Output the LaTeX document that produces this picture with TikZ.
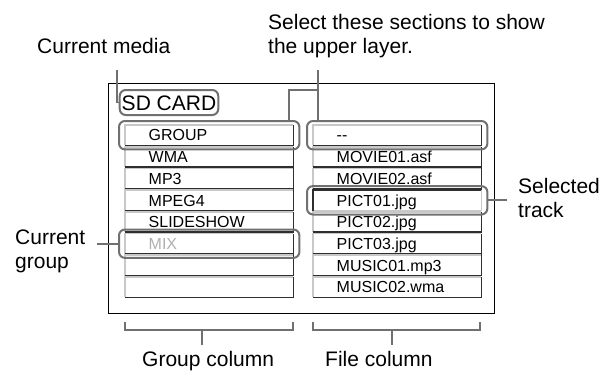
\documentclass[tikz,border=0pt]{standalone}
\usepackage{fontspec}
\setmainfont{Liberation Sans}
\usetikzlibrary{fit}
\definecolor{leadgray}{HTML}{707070}
\definecolor{bevlight}{HTML}{C8C8C8}
\definecolor{bevdark}{HTML}{2E2E2E}
\definecolor{mixgray}{HTML}{AFAFAF}
\begin{document}
\begin{tikzpicture}[x=1pt,y=-1pt,
  lbl/.style={font=\fontsize{21}{24}\selectfont, inner sep=0pt, anchor=base west, align=left},
  cell/.style={font=\fontsize{16}{18}\selectfont, minimum width=168pt, minimum height=20pt,
    text width=121pt, inner xsep=23.5pt, inner ysep=0pt, text height=11.5pt, text depth=0pt,
    align=left, anchor=north west},
  hl/.style={draw=leadgray, line width=2pt, rounded corners=6pt, inner xsep=6pt, inner ysep=4pt},
  lead/.style={draw=leadgray, line width=1.8pt},
  light/.style={draw=bevlight, line width=1.6pt},
  dark/.style={draw=bevdark, line width=1.6pt},
]
\useasboundingbox (0,0) rectangle (612,370);

% frame
\node[draw=black, line width=1.2pt, minimum width=386pt, minimum height=230pt,
  anchor=north west, inner sep=0pt] (frame) at (108,83) {};

% group column
\node[cell] (g0) at (125,125.0) {GROUP};
\node[cell] (g1) at (125,146.7) {WMA};
\node[cell] (g2) at (125,168.4) {MP3};
\node[cell] (g3) at (125,190.1) {MPEG4};
\node[cell] (g4) at (125,211.8) {SLIDESHOW};
\node[cell, text=mixgray] (g5) at (125,233.5) {MIX};
\node[cell] (g6) at (125,255.2) {};
\node[cell] (g7) at (125,276.9) {};

% file column
\node[cell] (f0) at (313,125.0) {{-}{-}};
\node[cell] (f1) at (313,146.7) {MOVIE01.asf};
\node[cell] (f2) at (313,168.4) {MOVIE02.asf};
\node[cell] (f3) at (313,190.1) {PICT01.jpg};
\node[cell] (f4) at (313,211.8) {PICT02.jpg};
\node[cell] (f5) at (313,233.5) {PICT03.jpg};
\node[cell] (f6) at (313,255.2) {MUSIC01.mp3};
\node[cell] (f7) at (313,276.9) {MUSIC02.wma};

% bevels
\foreach \n in {g0,g1,g2,g3,g4,g5,g6,g7,f0,f1,f2,f4,f5,f6,f7}{
  \draw[light] (\n.south west) -- (\n.north west) -- (\n.north east);
  \draw[dark] (\n.south west) -- (\n.south east) -- (\n.north east);
}
% selected (pressed) row
\draw[light] (f3.south west) -- (f3.south east) -- (f3.north east);
\draw[dark] (f3.south west) -- (f3.north west) -- (f3.north east);

% current media
\node[draw=leadgray, line width=2pt, rounded corners=6pt, font=\fontsize{21}{24}\selectfont,
  inner xsep=2pt, inner ysep=5pt, text height=15pt, text depth=0pt] (sd) at (169,102.5) {SD CARD};

% highlights
\node[hl, fit=(g0)] (hg) {};
\node[hl, fit=(f0)] (hf) {};
\node[hl, fit=(f3)] (hp) {};
\node[hl, fit=(g5)] (hm) {};

% labels
\node[lbl] (cmedia) at (37,53) {Current media};
\node[lbl] (selsec) at (268,53) {Select these sections to show\\the upper layer.};
\node[lbl] (cgroup) at (15,268) {Current\\group};
\node[lbl] (strack) at (518,217) {Selected\\track};
\node[lbl] (gcol) at (142,366) {Group column};
\node[lbl] (fcol) at (325,366) {File column};

% leaders
\coordinate (cmtop) at (117,70);
\draw[lead] (cmtop) |- (sd.west);
\coordinate (seltop) at (318,70);
\coordinate (selbar) at (289,90);
\draw[lead] (seltop) -- (seltop |- hf.north);
\draw[lead] (seltop |- selbar) -- (selbar) -- (selbar |- hg.north);
\coordinate (cgend) at (97,0);
\draw[lead] (hm.west) -- (cgend |- hm.west);
\coordinate (stend) at (507,0);
\draw[lead] (hp.east) -- (stend |- hp.east);

% brackets
\coordinate (gb1) at (125,322);
\coordinate (gb2) at (293,330);
\coordinate (gbt) at (202,345);
\draw[lead] (gb1) -- (gb1 |- gb2) -- (gb2) -- (gb2 |- gb1);
\draw[lead] (gbt |- gb2) -- (gbt);
\coordinate (fb1) at (313,322);
\coordinate (fb2) at (480,330);
\coordinate (fbt) at (392,345);
\draw[lead] (fb1) -- (fb1 |- fb2) -- (fb2) -- (fb2 |- fb1);
\draw[lead] (fbt |- fb2) -- (fbt);
\end{tikzpicture}
\end{document}
